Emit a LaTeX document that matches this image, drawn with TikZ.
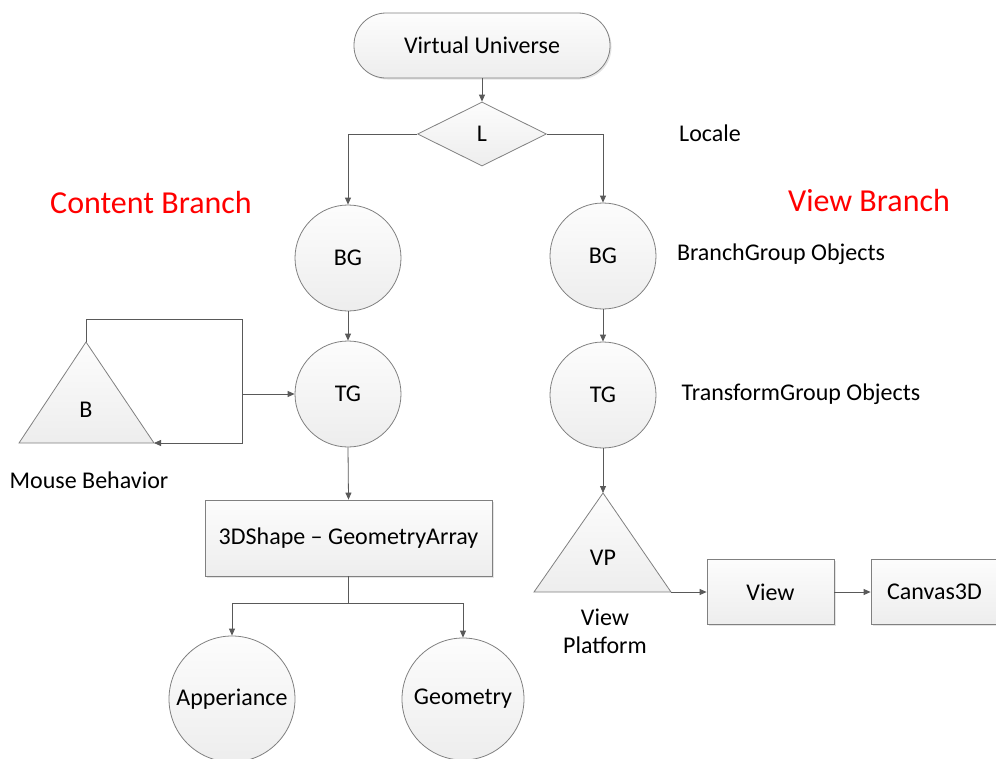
\documentclass[tikz,border=0pt]{standalone}
\usepackage{fontspec}
\setmainfont{Carlito}
\usetikzlibrary{shapes.geometric,arrows.meta,shadows}
\definecolor{edgec}{HTML}{808080}
\definecolor{linec}{HTML}{595959}
\begin{document}
\begin{tikzpicture}[x=1pt,y=-1pt,
  every node/.style={font=\fontsize{24}{28}\selectfont, text=black},
  shapefill/.style={draw=edgec, line width=0.8pt, top color=gray!2, bottom color=gray!14},
  shade2/.style={drop shadow={shadow xshift=1.5pt,shadow yshift=-1.5pt,fill=gray!35,opacity=0.6}},
  circ/.style={shapefill, circle, inner sep=0pt},
  boxn/.style={shapefill, rectangle, inner sep=0pt, shade2},
  conn/.style={draw=linec, line width=0.8pt},
  arr/.style={conn, -{Triangle[length=7pt,width=6pt]}},
  plain/.style={inner sep=0pt},
  redlab/.style={font=\fontsize{32}{36}\selectfont, text=red, inner sep=0pt}
]
\useasboundingbox (0,0) rectangle (996,758);

% top
\node[shapefill, rounded corners=32pt, minimum width=256pt, minimum height=65pt, inner sep=0pt, shade2] (vu) at (482,45.5) {Virtual Universe};
\node[shapefill, diamond, aspect=2, minimum width=129pt, minimum height=64pt, inner sep=0pt] (L) at (482,134) {L};
\node[plain] (locale) at (710,133) {Locale};

\node[redlab] (cb) at (151,203) {Content Branch};
\node[redlab] (vb) at (869,201) {View Branch};

% circles
\node[circ, minimum size=106pt] (bg1) at (348,258) {BG};
\node[circ, minimum size=106pt] (bg2) at (603,256) {BG};
\node[circ, minimum size=106pt] (tg1) at (348,394) {TG};
\node[circ, minimum size=106pt] (tg2) at (603,395) {TG};
\node[plain] (bgo) at (781,254) {BranchGroup Objects};
\node[plain] (tgo) at (801,394) {TransformGroup Objects};

% behavior triangle
\coordinate (Bapex) at (86,342);
\coordinate (Bbl) at (19,443);
\coordinate (Bbr) at (154,443);
\path[shapefill] (Bapex) -- (Bbr) -- (Bbl) -- cycle;
\node[plain] (B) at (86,410) {B};
\node[plain] (mb) at (89,480) {Mouse Behavior};
\coordinate (loopTR) at (242,319);
\coordinate (junc) at (242,394);

% 3DShape box
\node[boxn, minimum width=287pt, minimum height=76pt] (shape) at (348.5,538) {3DShape – GeometryArray};
\coordinate (split) at (348.5,603);
\node[circ, minimum size=126pt] (app) at (232,699) {Apperiance};
\node[circ, minimum size=122pt] (geo) at (463,699) {Geometry};

% view platform triangle
\coordinate (VPapex) at (603,493);
\coordinate (VPbl) at (534,592);
\coordinate (VPbr) at (671,592);
\path[shapefill] (VPapex) -- (VPbr) -- (VPbl) -- cycle;
\node[plain] (VP) at (603,558) {VP};
\node[plain, align=center, font=\fontsize{24}{28}\selectfont] (vpl) at (605,631) {View\\Platform};

\node[boxn, minimum width=127pt, minimum height=65pt] (view) at (770.5,592) {View};
\node[boxn, minimum width=127pt, minimum height=65pt] (canvas) at (934.5,592) {Canvas3D};

% connectors
\draw[arr] (vu.south) -- (L.north);
\draw[arr] (L.west) -| (bg1.north);
\draw[arr] (L.east) -| (bg2.north);
\draw[arr] (bg1) -- (tg1);
\draw[arr] (bg2) -- (tg2);
\draw[arr] (tg1.south) -- (shape.north);
\draw[arr] (tg2.south) -- (VPapex);
\draw[conn] (Bapex) |- (loopTR) -- (junc);
\draw[arr] (junc) |- (Bbr);
\draw[arr] (junc) -- (tg1.west);
\draw[conn] (shape.south) -- (split);
\draw[arr] (split) -| (app.north);
\draw[arr] (split) -| (geo.north);
\draw[arr] (VPbr) -- (view.west);
\draw[arr] (view.east) -- (canvas.west);
\end{tikzpicture}
\end{document}
